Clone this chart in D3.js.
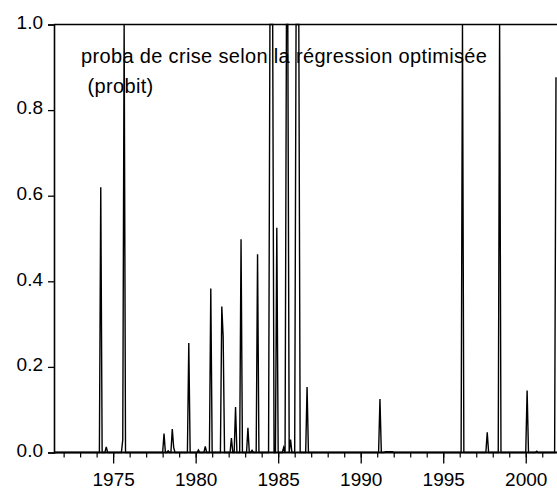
<!DOCTYPE html>
<html>
<head>
<meta charset="utf-8">
<script src="https://cdn.jsdelivr.net/npm/d3@7/dist/d3.min.js"></script>
<style>
  html, body { margin: 0; padding: 0; background: #fff; }
  svg { display: block; }
  text { font-family: "Liberation Sans", Arial, sans-serif; fill: #000; }
</style>
</head>
<body>
<svg id="chart" width="557" height="492"></svg>
<script>
// ---- Data (monthly, 1971M06 .. 2001M11) ----
const startYear = 1971;
const startMonth = 6;
const probit = [
  // 1971 (Jun-Dec)
  0,0,0,0,0,0,0,
  // 1972
  0,0,0,0,0,0,0,0,0,0,0,0,
  // 1973
  0,0,0,0,0,0,0,0,0,0,0,0,
  // 1974
  0,0,0,0.62,0,0,0,0.013,0,0,0,0,
  // 1975
  0,0,0,0,0,0,0,0.03,1.0,0,0,0,
  // 1976
  0,0,0,0,0,0,0,0,0,0,0,0,
  // 1977
  0,0,0,0,0,0,0,0,0,0,0,0,
  // 1978
  0,0.044,0,0,0.004,0,0,0.055,0.012,0,0,0,
  // 1979
  0,0,0,0,0,0,0,0.256,0,0,0,0,
  // 1980
  0,0,0.006,0,0,0,0,0.014,0,0,0,0.383,
  // 1981
  0,0,0,0,0,0,0,0.341,0.27,0,0,0,
  // 1982
  0,0,0.034,0,0,0.106,0,0,0,0.498,0,0,
  // 1983
  0,0,0.058,0,0,0.005,0,0,0,0.463,0,0,
  // 1984
  0,0,0,0,0,0,1.0,1.0,1.0,0,0,0.525,
  // 1985
  0,0,0,0,0.012,0,1.0,1.0,0,0.03,0,0,
  // 1986
  0,1.0,1.0,1.0,0,0,0,0,0,0.153,0,0,
  // 1987
  0,0,0,0,0,0,0,0,0,0,0,0,
  // 1988
  0,0,0,0,0,0,0,0,0,0,0,0,
  // 1989
  0,0,0,0,0,0,0,0,0,0,0,0,
  // 1990
  0,0,0,0,0,0,0,0,0,0,0,0,
  // 1991
  0,0,0.125,0,0,0,0.002,0.002,0.002,0.002,0.002,0.002,
  // 1992
  0,0,0,0,0,0,0,0,0,0,0,0,
  // 1993
  0,0,0,0,0,0,0,0,0,0,0,0,
  // 1994
  0,0,0,0,0,0,0,0,0,0,0,0,
  // 1995
  0,0,0,0,0,0,0,0,0,0,0,0,
  // 1996
  0,0,1.0,0,0,0,0,0,0,0,0,0,
  // 1997
  0,0,0,0,0,0,0,0,0.047,0,0,0,
  // 1998
  0,0,0,0,0,1.0,0,0,0,0,0,0,
  // 1999
  0,0,0,0,0,0,0,0,0,0,0,0,
  // 2000
  0,0.145,0,0,0,0,0,0,0.003,0,0,0,
  // 2001 (Jan-Nov)
  0,0,0,0,0,0,0,0,0,0,0.877
];
const majorYears = [1975, 1980, 1985, 1990, 1995, 2000];
const minorYears = d3.range(1972, 2002);
const yTickValues = [0.0, 0.2, 0.4, 0.6, 0.8, 1.0];
const titleLines = ["proba de crise selon la régression optimisée", "(probit)"];

// ---- Layout ----
const svg = d3.select("#chart");
const plotLeft = 54, plotRight = 556, plotTop = 24.5, plotBottom = 452.5;

const t0 = startYear + (startMonth - 1) / 12;
const series = probit.map((v, i) => ({ t: t0 + i / 12, v }));
const tEnd = series[series.length - 1].t;

const x = d3.scaleLinear().domain([t0, tEnd]).range([plotLeft, plotRight]);
const y = d3.scaleLinear().domain([0, 1]).range([plotBottom, plotTop]);

// series
const line = d3.line().x(d => x(d.t)).y(d => y(d.v));
svg.append("path")
  .datum(series)
  .attr("d", line)
  .attr("fill", "none")
  .attr("stroke", "#000")
  .attr("stroke-width", 1.4)
  .attr("stroke-linejoin", "miter")
  .attr("stroke-miterlimit", 4);

// top frame
svg.append("line")
  .attr("x1", plotLeft).attr("x2", 557).attr("y1", plotTop).attr("y2", plotTop)
  .attr("stroke", "#000").attr("stroke-width", 1.6);

// y axis
const yAxis = d3.axisLeft(y).tickValues(yTickValues).tickSize(6).tickPadding(5)
  .tickFormat(d3.format(".1f"));
const gy = svg.append("g").attr("transform", `translate(${plotLeft},0)`).call(yAxis);
gy.select(".domain").attr("stroke", "#000").attr("stroke-width", 1.6);
gy.selectAll(".tick line").attr("stroke", "#000").attr("stroke-width", 1.3);
gy.selectAll(".tick text").style("font-size", "19px")
  .style("font-family", "'Liberation Sans', Arial, sans-serif").attr("fill", "#000")
  .attr("dy", "0.2em");

// x axis minor ticks
const xMinor = d3.axisBottom(x).tickValues(minorYears).tickSize(5).tickFormat("");
const gxm = svg.append("g").attr("transform", `translate(0,${plotBottom})`).call(xMinor);
gxm.select(".domain").remove();
gxm.selectAll(".tick line").attr("stroke", "#000").attr("stroke-width", 1.2);

// x axis major ticks + labels
const xMajor = d3.axisBottom(x).tickValues(majorYears).tickSize(11).tickPadding(9.5)
  .tickFormat(d3.format("d"));
const gx = svg.append("g").attr("transform", `translate(0,${plotBottom})`).call(xMajor);
gx.select(".domain").remove();
gx.selectAll(".tick line").attr("stroke", "#000").attr("stroke-width", 1.3);
gx.selectAll(".tick text").style("font-size", "19px")
  .style("font-family", "'Liberation Sans', Arial, sans-serif").attr("fill", "#000");

// bottom axis line
svg.append("line")
  .attr("x1", plotLeft).attr("x2", 557).attr("y1", plotBottom).attr("y2", plotBottom)
  .attr("stroke", "#000").attr("stroke-width", 2);

// title text
svg.append("text").attr("x", 81).attr("y", 63)
  .style("font-size", "20px").style("letter-spacing", "0.34px")
  .text(titleLines[0]);
svg.append("text").attr("x", 87.5).attr("y", 93)
  .style("font-size", "20px").style("letter-spacing", "0.34px")
  .text(titleLines[1]);
</script>
</body>
</html>
